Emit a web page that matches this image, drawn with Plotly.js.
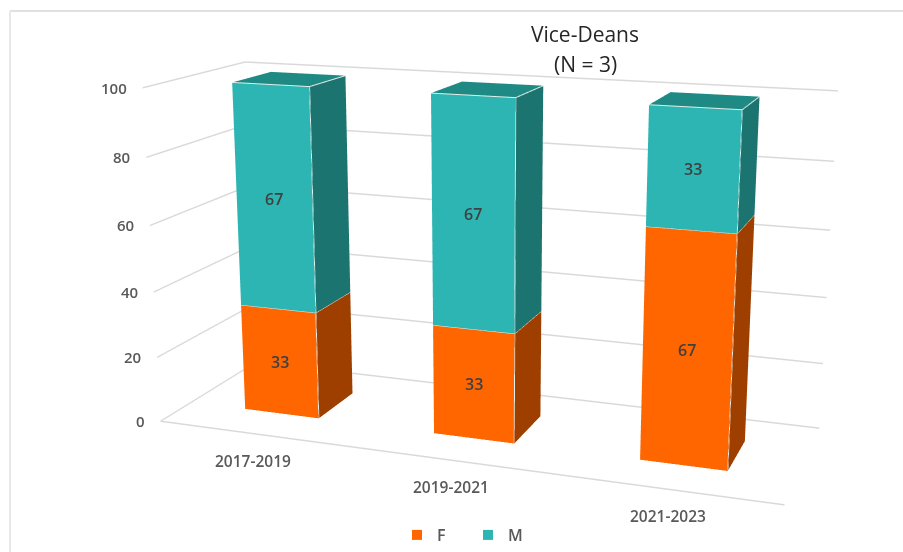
<!DOCTYPE html>
<html>
<head>
<meta charset="utf-8">
<script src="https://cdn.plot.ly/plotly-3.0.1.min.js"></script>
<style>
html,body{margin:0;padding:0;width:903px;height:552px;overflow:hidden;background:#fff}
#wrap{position:relative;width:903px;height:552px;overflow:hidden}
#chart{position:absolute;left:-612px;top:-401px;width:2200px;height:1325px}
</style>
</head>
<body>
<div id="wrap"><div id="chart"></div></div>
<script>
var categories = ['2017-2019', '2019-2021', '2021-2023'];
var seriesF = [33, 33, 67];
var seriesM = [67, 67, 33];
var zTicks = [0, 20, 40, 60, 80, 100];
var titleMain = 'Vice-Deans';
var titleSub = '(N = 3)';

var W = 2200, H = 1325, OX = 612, OY = 401;
function px(x){return (x + OX) / W;}
function py(y){return 1 - (y + OY) / H;}

var halfW = 0.2, y0 = 0.3, y1 = 0.7;
var FONT = '"Open Sans", sans-serif';

function boxes(name, base, vals, cFront, cSide, cTop){
  var x=[],y=[],z=[],i=[],j=[],k=[],fc=[];
  vals.forEach(function(v,c){
    var xa=c+0.5-halfW, xb=c+0.5+halfW, za=base[c], zb=base[c]+v, n=x.length;
    [[xa,y0,za],[xb,y0,za],[xb,y0,zb],[xa,y0,zb],[xa,y1,za],[xb,y1,za],[xb,y1,zb],[xa,y1,zb]].forEach(function(p){x.push(p[0]);y.push(p[1]);z.push(p[2]);});
    [[0,1,2,cFront],[0,2,3,cFront],[1,5,6,cSide],[1,6,2,cSide],[3,2,6,cTop],[3,6,7,cTop]].forEach(function(t){i.push(n+t[0]);j.push(n+t[1]);k.push(n+t[2]);fc.push(t[3]);});
  });
  return {type:'mesh3d',name:name,x:x,y:y,z:z,i:i,j:j,k:k,facecolor:fc,color:cFront,flatshading:true,
    lighting:{ambient:1,diffuse:0,specular:0,fresnel:0,roughness:1},showlegend:false,showscale:false,hoverinfo:'skip'};
}
var zero = seriesF.map(function(){return 0;});
var traces = [
  boxes('F', zero, seriesF, '#FF6600', '#9E3F00', '#B84A00'),
  boxes('M', seriesF, seriesM, '#2CB5B2', '#1B7470', '#1F8A84')
];
// pale edges
var ex=[],ey=[],ez=[];
function seg(a,b){ex.push(a[0],b[0],null);ey.push(a[1],b[1],null);ez.push(a[2],b[2],null);}
categories.forEach(function(_,c){
  var xa=c+0.5-halfW,xb=c+0.5+halfW,m=seriesF[c],t=seriesF[c]+seriesM[c];
  seg([xb,y0,0],[xb,y0,t]);seg([xa,y0,t],[xb,y0,t]);seg([xb,y0,t],[xb,y1,t]);
  seg([xa,y0,m],[xb,y0,m]);seg([xb,y0,m],[xb,y1,m]);
});
traces.push({type:'scatter3d',mode:'lines',x:ex,y:ey,z:ez,line:{color:'#E4EEEA',width:2},showlegend:false,hoverinfo:'skip'});
// legend entries
[['F','#FF6600'],['M','#2CB5B2']].forEach(function(s){
  traces.push({type:'scatter3d',mode:'markers',name:s[0],x:[null],y:[null],z:[null],marker:{symbol:'square',size:10,color:s[1]},showlegend:true,hoverinfo:'skip'});
});

var anns = [];
zTicks.forEach(function(t){
  anns.push({x:0,y:0,z:t,text:String(t),showarrow:false,xanchor:'right',xshift:-14,font:{family:FONT,size:15,color:'#595959',weight:600}});
});
categories.forEach(function(c,idx){
  anns.push({x:idx+0.5,y:0,z:0,text:c,showarrow:false,yshift:-27,font:{family:FONT,size:15.5,color:'#595959',weight:600}});
  anns.push({x:idx+0.5,y:y0,z:seriesF[idx]/2,text:String(seriesF[idx]),showarrow:false,font:{family:FONT,size:16,color:'#404040',weight:600}});
  anns.push({x:idx+0.5,y:y0,z:seriesF[idx]+seriesM[idx]/2,text:String(seriesM[idx]),showarrow:false,font:{family:FONT,size:16,color:'#404040',weight:600}});
});
var grid = '#D9D9D9';
var layout = {
  width:W,height:H,margin:{l:0,r:0,t:0,b:0},paper_bgcolor:'#fff',
  title:{text:titleMain,x:px(585),xanchor:'center',y:py(35),yanchor:'middle',font:{family:FONT,size:21,color:'#262626'}},
  annotations:[{xref:'paper',yref:'paper',x:px(585),y:py(64),text:titleSub,showarrow:false,xanchor:'center',yanchor:'middle',font:{family:FONT,size:21,color:'#262626'}}],
  showlegend:true,
  legend:{orientation:'h',x:px(397),y:py(518),xanchor:'left',yanchor:'top',entrywidth:26,entrywidthmode:'pixels',font:{family:FONT,size:16,color:'#595959',weight:600},bgcolor:'rgba(0,0,0,0)'},
  shapes:[
    {type:'line',xref:'paper',yref:'paper',x0:px(10),x1:px(903),y0:py(11),y1:py(11),line:{color:'#E0E0E0',width:2}},
    {type:'line',xref:'paper',yref:'paper',x0:px(10),x1:px(10),y0:py(11),y1:py(552),line:{color:'#E8E8E8',width:2}}
  ],
  scene:{
    domain:{x:[0,1],y:[0,1]},
    aspectmode:'manual',aspectratio:{x:0.98,y:0.32,z:0.527},
    camera:{projection:{type:'perspective'},eye:{x:0.80,y:-2.22,z:0.606},center:{x:0,y:0,z:0},up:{x:0,y:0,z:1}},
    xaxis:{range:[0,3],title:{text:''},showgrid:false,zeroline:false,showline:true,linecolor:grid,linewidth:3,showticklabels:false,ticks:'',showbackground:false,showspikes:false},
    yaxis:{range:[0,1],title:{text:''},showgrid:false,zeroline:false,showline:false,showticklabels:false,ticks:'',showbackground:false,showspikes:false},
    zaxis:{range:[0,100],title:{text:''},tickvals:zTicks,showgrid:true,gridcolor:grid,gridwidth:3,zeroline:false,showline:false,showticklabels:false,ticks:'',showbackground:false,showspikes:false},
    annotations:anns
  }
};
Plotly.newPlot('chart',traces,layout,{displayModeBar:false,responsive:false});
</script>
</body>
</html>
